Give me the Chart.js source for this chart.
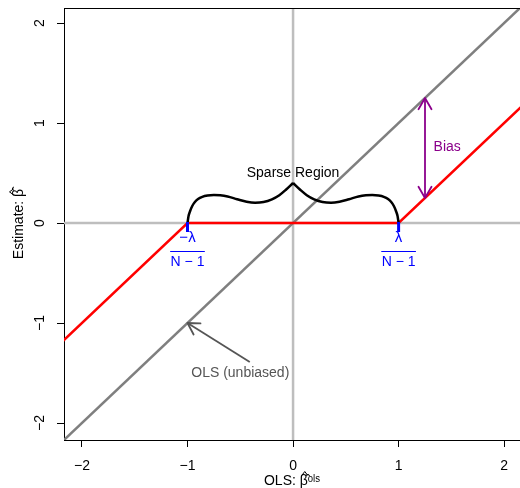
<!DOCTYPE html>
<html><head><meta charset="utf-8">
<script src="https://cdn.jsdelivr.net/npm/chart.js@4/dist/chart.umd.min.js"></script>
<style>html,body{margin:0;padding:0;background:#fff}</style>
</head><body>
<canvas id="c" width="520" height="488"></canvas>
<script>
// ---- data ----
const xTicks = [-2, -1, 0, 1, 2];
const yTicks = [-2, -1, 0, 1, 2];
const tickLabels = ['−2', '−1', '0', '1', '2'];
const xRange = [-2.17, 2.15];
const yRange = [-2.17, 2.15];

const hZeroX = [-3, 3],  hZeroY = [0, 0];
const vZeroX = [0, 0],   vZeroY = [-3, 3];
const olsX = [-3, 3],    olsY = [-3, 3];
const lassoX = [-3, -1, 1, 3], lassoY = [-2, 0, 0, 2];

const braceLX = [-1.0, -0.99, -0.975, -0.955, -0.93, -0.90, -0.86, -0.81, -0.75, -0.69, -0.62, -0.53, -0.44, -0.36, -0.28, -0.20, -0.13, -0.07, 0];
const braceLY = [0.0, 0.07, 0.12, 0.17, 0.21, 0.24, 0.262, 0.275, 0.28, 0.277, 0.265, 0.238, 0.213, 0.203, 0.21, 0.237, 0.278, 0.33, 0.40];
const braceRX = [0, 0.07, 0.13, 0.20, 0.28, 0.36, 0.44, 0.53, 0.62, 0.69, 0.75, 0.81, 0.86, 0.90, 0.93, 0.955, 0.975, 0.99, 1.0];
const braceRY = [0.40, 0.33, 0.278, 0.237, 0.21, 0.203, 0.213, 0.238, 0.265, 0.277, 0.28, 0.275, 0.262, 0.24, 0.21, 0.17, 0.12, 0.07, 0.0];

const cutLX = [-1, -1], cutRX = [1, 1], cutY = [0.01, -0.09];
const biasX = [1.25, 1.25], biasY = [0.25, 1.25];
const noteX = [-0.41, -1],  noteY = [-1.39, -1];

const sparseText = 'Sparse Region', sparsePos = [0, 0.50];
const biasText = 'Bias', biasPos = [1.46, 0.76];
const olsText = 'OLS (unbiased)', olsPos = [-0.5, -1.50];
const lambdaX = [-1, 1];
const lambdaNum = ['−λ', 'λ'];
const lambdaDen = 'N − 1';
const fracY = [-0.15, -0.28, -0.39]; // numerator, bar, denominator

const xTitleMain = 'OLS: β̂', xTitleSup = 'ᵒˡˢ';
const yTitleText = 'Estimate: β̂';

const FONT = '"Liberation Sans", Arial, Helvetica, sans-serif';
const PURPLE = '#8B008B';
const NOTEGRAY = '#555555';

const pts = (xs, ys) => xs.map((v, i) => ({x: v, y: ys[i]}));
const line = (xs, ys, color, w, order) => ({
  data: pts(xs, ys), showLine: true, borderColor: color, backgroundColor: color,
  borderWidth: w, pointRadius: 0, fill: false, order: order, tension: 0
});

const datasets = [
  line(hZeroX, hZeroY, '#BEBEBE', 2.5, 20),
  line(vZeroX, vZeroY, '#BEBEBE', 2.5, 19),
  line(olsX, olsY, '#7F7F7F', 2.5, 18),
  line(lassoX, lassoY, '#FF0000', 2.5, 17),
  Object.assign(line(braceLX, braceLY, '#000000', 2.5, 16), {cubicInterpolationMode: 'monotone'}),
  Object.assign(line(braceRX, braceRY, '#000000', 2.5, 15), {cubicInterpolationMode: 'monotone'}),
  line(cutLX, cutY, '#0000FF', 3, 14),
  line(cutRX, cutY, '#0000FF', 3, 13),
  line(biasX, biasY, PURPLE, 1.8, 12),
  line(noteX, noteY, NOTEGRAY, 1.8, 11)
];

function head(ctx, x0, y0, x1, y1, len) {
  const a = Math.atan2(y1 - y0, x1 - x0);
  ctx.beginPath();
  ctx.moveTo(x1 - len * Math.cos(a - Math.PI / 6), y1 - len * Math.sin(a - Math.PI / 6));
  ctx.lineTo(x1, y1);
  ctx.lineTo(x1 - len * Math.cos(a + Math.PI / 6), y1 - len * Math.sin(a + Math.PI / 6));
  ctx.stroke();
}

const annot = {
  id: 'annot',
  afterDraw(chart) {
    const {ctx, chartArea: a, scales: {x, y}} = chart;
    ctx.save();
    // plot box top edge
    ctx.strokeStyle = '#000'; ctx.lineWidth = 1;
    ctx.beginPath();
    ctx.moveTo(a.left, Math.round(a.top) + 0.5);
    ctx.lineTo(a.right, Math.round(a.top) + 0.5);
    ctx.stroke();
    // arrow heads
    ctx.lineCap = 'round'; ctx.lineJoin = 'round';
    ctx.strokeStyle = PURPLE; ctx.lineWidth = 1.8;
    const bx = x.getPixelForValue(biasX[0]);
    const b0 = y.getPixelForValue(biasY[0]), b1 = y.getPixelForValue(biasY[1]);
    head(ctx, bx, b1, bx, b0, 13);
    head(ctx, bx, b0, bx, b1, 13);
    ctx.strokeStyle = NOTEGRAY;
    head(ctx, x.getPixelForValue(noteX[0]), y.getPixelForValue(noteY[0]),
              x.getPixelForValue(noteX[1]), y.getPixelForValue(noteY[1]), 13);
    // texts
    ctx.font = '14px ' + FONT;
    ctx.textAlign = 'center'; ctx.textBaseline = 'middle';
    ctx.fillStyle = '#000';
    ctx.fillText(sparseText, x.getPixelForValue(sparsePos[0]), y.getPixelForValue(sparsePos[1]));
    ctx.fillStyle = PURPLE;
    ctx.fillText(biasText, x.getPixelForValue(biasPos[0]), y.getPixelForValue(biasPos[1]));
    ctx.fillStyle = NOTEGRAY;
    ctx.fillText(olsText, x.getPixelForValue(olsPos[0]), y.getPixelForValue(olsPos[1]));
    ctx.fillStyle = '#0000FF'; ctx.strokeStyle = '#0000FF'; ctx.lineWidth = 1;
    const w = ctx.measureText(lambdaDen).width;
    lambdaX.forEach((lx, i) => {
      const px = x.getPixelForValue(lx);
      ctx.font = '15px ' + FONT;
      ctx.fillText(lambdaNum[i], px, y.getPixelForValue(fracY[0]));
      ctx.font = '14px ' + FONT;
      const ly = Math.round(y.getPixelForValue(fracY[1])) + 0.5;
      ctx.beginPath(); ctx.moveTo(px - w / 2, ly); ctx.lineTo(px + w / 2, ly); ctx.stroke();
      ctx.fillText(lambdaDen, px, y.getPixelForValue(fracY[2]));
    });
    // hats over beta in axis titles
    ctx.strokeStyle = '#000'; ctx.lineWidth = 1; ctx.lineCap = 'butt'; ctx.lineJoin = 'miter';
    ctx.font = '14px ' + FONT;
    const W = ctx.measureText(xTitleMain + xTitleSup).width;
    const pre = ctx.measureText('OLS: ').width, bw = ctx.measureText('β').width;
    const hx = (x.left + x.right) / 2 - W / 2 + pre + bw / 2 + 1;
    const hy = 473;
    ctx.beginPath(); ctx.moveTo(hx - 3, hy + 2.5); ctx.lineTo(hx, hy - 1.5); ctx.lineTo(hx + 3, hy + 2.5); ctx.stroke();
    const Wy = ctx.measureText(yTitleText).width;
    const preY = ctx.measureText('Estimate: ').width;
    const cy = (y.top + y.bottom) / 2 + Wy / 2 - preY - bw / 2 - 1;
    const cx = 11;
    ctx.beginPath(); ctx.moveTo(cx + 2.5, cy - 3); ctx.lineTo(cx - 1.5, cy); ctx.lineTo(cx + 2.5, cy + 3); ctx.stroke();
    ctx.restore();
  }
};

Chart.defaults.font.family = FONT;
Chart.defaults.font.size = 14;
Chart.defaults.color = '#000';

new Chart(document.getElementById('c'), {
  type: 'scatter',
  data: {datasets},
  plugins: [annot],
  options: {
    responsive: false, animation: false, devicePixelRatio: 1,
    layout: {padding: {top: 8, left: 0, right: 0, bottom: 0}},
    plugins: {legend: {display: false}, tooltip: {enabled: false}},
    scales: {
      x: {
        type: 'linear', min: xRange[0], max: xRange[1],
        afterBuildTicks: s => { s.ticks = xTicks.map(v => ({value: v})); },
        afterFit: s => { s.height = 48; s.paddingLeft = 0; s.paddingRight = 0; },
        grid: {display: true, drawOnChartArea: false, drawTicks: true, tickLength: 7, color: '#000', lineWidth: 1},
        border: {display: true, color: '#000', width: 1},
        ticks: {color: '#000', padding: 11, autoSkip: false, maxRotation: 0, minRotation: 0,
                font: {size: 14}, callback: v => tickLabels[xTicks.indexOf(v)]},
        title: {display: true, text: xTitleMain + xTitleSup, color: '#000', padding: 0, font: {size: 14, lineHeight: 1}}
      },
      y: {
        type: 'linear', min: yRange[0], max: yRange[1],
        afterBuildTicks: s => { s.ticks = yTicks.map(v => ({value: v})); },
        afterFit: s => { s.width = 64; s.paddingTop = 0; s.paddingBottom = 0; },
        grid: {display: true, drawOnChartArea: false, drawTicks: true, tickLength: 7, color: '#000', lineWidth: 1},
        border: {display: true, color: '#000', width: 1},
        ticks: {color: '#000', padding: 9, autoSkip: false, minRotation: 90, maxRotation: 90, crossAlign: 'center',
                font: {size: 14}, callback: v => tickLabels[yTicks.indexOf(v)]},
        title: {display: true, text: yTitleText, color: '#000', padding: {top: 11, bottom: 0}, font: {size: 14, lineHeight: 1.2}}
      }
    }
  }
});
</script>
</body></html>
